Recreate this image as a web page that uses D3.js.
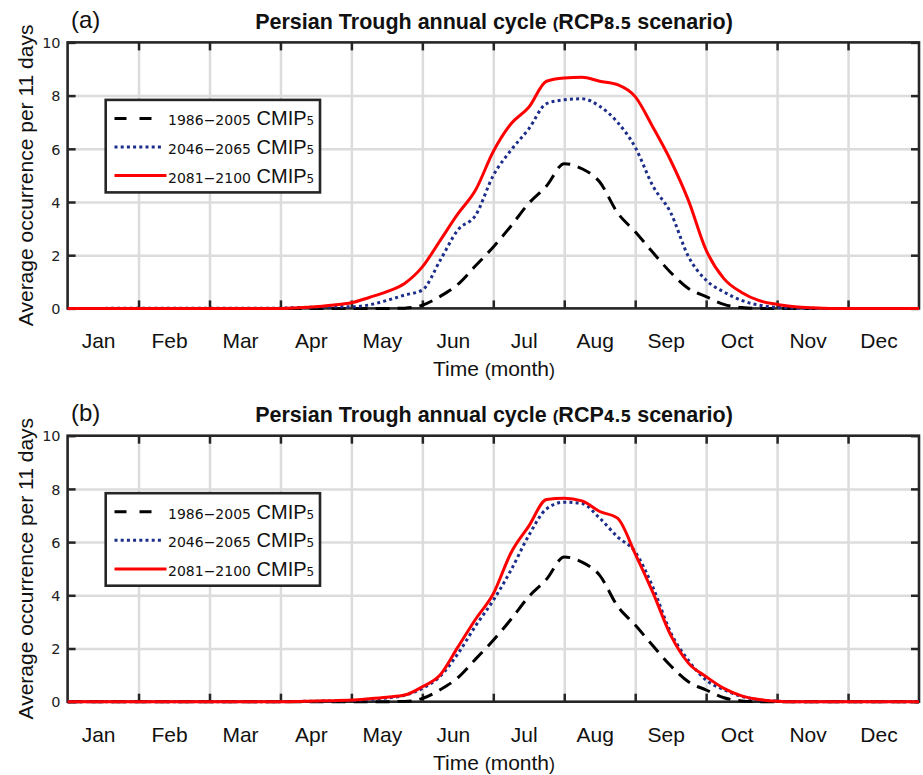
<!DOCTYPE html>
<html>
<head>
<meta charset="utf-8">
<title>Persian Trough annual cycle</title>
<script src="https://d3js.org/d3.v7.min.js"></script>
<style>
  body { margin: 0; background: #fff; }
  svg { display: block; }
</style>
</head>
<body>
<div id="container"></div>
<script>
//------------------------------ DATA ------------------------------//
const monthNames = ["Jan", "Feb", "Mar", "Apr", "May", "Jun", "Jul", "Aug", "Sep", "Oct", "Nov", "Dec"];
const yTicks = [0, 2, 4, 6, 8, 10];

// sample positions along the year, in months (0 = 1 Jan, 12 = 31 Dec)
const xMonth = [0, 3.0, 3.25, 3.5, 3.75, 4.0, 4.25, 4.5, 4.75, 5.0, 5.25, 5.5, 5.75, 6.0, 6.25, 6.5, 6.75,
                7.0, 7.25, 7.5, 7.75, 8.0, 8.25, 8.5, 8.75, 9.0, 9.25, 9.5, 9.75, 10.0, 10.25, 10.5, 10.75, 12];

// 1986-2005 (same historical run in both panels)
const hist = [0, 0, 0, 0, 0, 0, 0, 0, 0.01, 0.12, 0.45, 0.9, 1.6, 2.31, 3.1, 3.95, 4.6,
              5.44, 5.25, 4.75, 3.6, 2.88, 2.1, 1.35, 0.75, 0.44, 0.15, 0.03, 0, 0, 0, 0, 0, 0];
// RCP8.5
const rcp85Mid = [0, 0.01, 0.03, 0.05, 0.06, 0.06, 0.13, 0.3, 0.5, 0.69, 1.8, 2.95, 3.5, 5.0, 5.95, 6.75, 7.7,
                  7.84, 7.88, 7.6, 7.0, 6.06, 4.6, 3.6, 1.95, 1.06, 0.62, 0.3, 0.12, 0.04, 0.01, 0, 0, 0];
const rcp85End = [0, 0, 0.02, 0.06, 0.13, 0.21, 0.41, 0.63, 0.94, 1.56, 2.55, 3.55, 4.45, 5.9, 6.94, 7.56, 8.54,
                  8.66, 8.69, 8.54, 8.41, 7.96, 6.81, 5.56, 4.06, 2.19, 1.12, 0.6, 0.29, 0.15, 0.06, 0.02, 0, 0];
// RCP4.5
const rcp45Mid = [0, 0, 0.01, 0.02, 0.03, 0.04, 0.08, 0.14, 0.24, 0.5, 0.95, 1.8, 2.85, 3.81, 4.95, 6.25, 7.25,
                  7.5, 7.45, 6.9, 6.2, 5.63, 4.3, 2.6, 1.55, 0.81, 0.45, 0.2, 0.07, 0.02, 0, 0, 0, 0];
const rcp45End = [0, 0, 0.01, 0.03, 0.04, 0.06, 0.11, 0.17, 0.25, 0.56, 1.0, 2.05, 3.1, 4.06, 5.6, 6.6, 7.6,
                  7.65, 7.55, 7.15, 6.9, 5.56, 4.1, 2.5, 1.45, 0.94, 0.5, 0.22, 0.08, 0.02, 0, 0, 0, 0];

const periods = ["1986\u22122005", "2046\u22122065", "2081\u22122100"];

//------------------------------ SVG -------------------------------//
const width = 923;
const height = 775;
const left = 67.6, right = 919;
const plotH = 266;
const panelGap = 393.3;

const svg = d3.select("div#container").append("svg")
    .attr("width", width)
    .attr("height", height);

const xScale = d3.scaleLinear().domain([0, 12]).range([left, right]);

const styles = [
    { color: "#000000", dash: "14,8", width: 3 },
    { color: "#1c2d8a", dash: "3,3.2", width: 3 },
    { color: "#ff0000", dash: null, width: 3 }
];

const sans = "'Liberation Sans', Arial, sans-serif";
const deja = "'DejaVu Sans', sans-serif";
const frameColor = "#262626";

function drawPanel(top, letter, scenario, seriesList) {
    const bottom = top + plotH;
    const yScale = d3.scaleLinear().domain([0, 10]).range([bottom, top]);
    const g = svg.append("g");

    //--- gridlines
    g.append("g")
        .attr("transform", "translate(0," + bottom + ")")
        .call(d3.axisBottom(xScale).tickValues(d3.range(1, 12)).tickSize(-plotH).tickFormat(""))
        .call(s => s.select(".domain").remove())
        .call(s => s.selectAll("line").attr("stroke", "#dcdcdc").attr("stroke-width", 2.5));
    g.append("g")
        .attr("transform", "translate(" + left + ",0)")
        .call(d3.axisLeft(yScale).tickValues(yTicks.slice(1, -1)).tickSize(-(right - left)).tickFormat(""))
        .call(s => s.select(".domain").remove())
        .call(s => s.selectAll("line").attr("stroke", "#dcdcdc").attr("stroke-width", 2.5));

    //--- frame
    g.append("rect")
        .attr("x", left).attr("y", top)
        .attr("width", right - left).attr("height", plotH)
        .attr("fill", "none").attr("stroke", frameColor).attr("stroke-width", 2.6);

    //--- inner ticks
    const tickStyle = s => {
        s.select(".domain").remove();
        s.selectAll("line").attr("stroke", frameColor).attr("stroke-width", 2.5);
    };
    g.append("g").attr("transform", "translate(0," + bottom + ")")
        .call(d3.axisBottom(xScale).tickValues(d3.range(1, 12)).tickSize(-8).tickFormat(""))
        .call(tickStyle);
    g.append("g").attr("transform", "translate(0," + top + ")")
        .call(d3.axisTop(xScale).tickValues(d3.range(1, 12)).tickSize(-8).tickFormat(""))
        .call(tickStyle);
    g.append("g").attr("transform", "translate(" + right + ",0)")
        .call(d3.axisRight(yScale).tickValues(yTicks).tickSize(-8).tickFormat(""))
        .call(tickStyle);
    const yAxis = g.append("g").attr("transform", "translate(" + left + ",0)")
        .call(d3.axisLeft(yScale).tickValues(yTicks).tickSize(-8).tickPadding(8).tickFormat(d3.format("d")))
        .call(tickStyle);
    yAxis.selectAll("text")
        .attr("font-family", deja).attr("font-size", 14.5).attr("fill", "#222")
        .attr("x", -7).attr("dy", "0.36em");

    //--- month labels
    const monthAxis = g.append("g").attr("transform", "translate(-5," + bottom + ")")
        .call(d3.axisBottom(xScale).tickValues(d3.range(12).map(i => i + 0.5))
            .tickSize(0).tickFormat((d, i) => monthNames[i]));
    monthAxis.select(".domain").remove();
    monthAxis.selectAll("text")
        .attr("font-family", sans).attr("font-size", 21).attr("fill", "#111")
        .attr("y", 40).attr("dy", 0);

    //--- axis titles
    const xt = g.append("text")
        .attr("x", 494).attr("y", bottom + 68)
        .attr("text-anchor", "middle")
        .attr("font-family", sans).attr("font-size", 21).attr("fill", "#111");
    xt.append("tspan").text("Time ");
    xt.append("tspan").attr("font-size", 18).text("(");
    xt.append("tspan").text("month");
    xt.append("tspan").attr("font-size", 18).text(")");

    g.append("text")
        .attr("transform", "translate(33," + (top + plotH / 2) + ") rotate(-90)")
        .attr("text-anchor", "middle")
        .attr("font-family", sans).attr("font-size", 21).attr("fill", "#111")
        .text("Average occurrence per 11 days");

    //--- panel letter and title
    g.append("text")
        .attr("x", 71).attr("y", top - 14.5)
        .attr("font-family", sans).attr("font-size", 24).attr("fill", "#111")
        .text("(" + letter + ")");

    const title = g.append("text")
        .attr("x", 494).attr("y", top - 13.5)
        .attr("text-anchor", "middle")
        .attr("font-family", sans).attr("font-size", 21.5).attr("font-weight", "bold").attr("fill", "#111");
    title.append("tspan").text("Persian Trough annual cycle ");
    title.append("tspan").attr("font-size", 17).text("(");
    title.append("tspan").text("RCP");
    title.append("tspan").attr("font-family", deja).attr("font-size", 15.5).text(scenario);
    title.append("tspan").text(" scenario)");

    //--- curves
    const line = d3.line()
        .x((d, i) => xScale(xMonth[i]))
        .y(d => yScale(d))
        .curve(d3.curveMonotoneX);

    g.selectAll("path.series")
        .data(seriesList)
        .enter()
        .append("path")
        .attr("class", "series")
        .attr("d", d => line(d))
        .attr("fill", "none")
        .attr("stroke", (d, i) => styles[i].color)
        .attr("stroke-width", (d, i) => styles[i].width)
        .attr("stroke-dasharray", (d, i) => styles[i].dash)
        .attr("stroke-linejoin", "round");

    //--- legend
    const lx = 105.7, ly = top + 57.5;
    const legend = g.append("g");
    legend.append("rect")
        .attr("x", lx).attr("y", ly)
        .attr("width", 214.3).attr("height", 92.5)
        .attr("fill", "#fff").attr("stroke", frameColor).attr("stroke-width", 2.6);

    const rows = legend.selectAll("g.row")
        .data(periods)
        .enter()
        .append("g")
        .attr("class", "row")
        .attr("transform", (d, i) => "translate(0," + (ly + 18.5 + i * 28.6) + ")");

    rows.append("line")
        .attr("x1", 114.5)
        .attr("x2", (d, i) => i === 0 ? 154 : (i === 1 ? 163 : 166.5))
        .attr("y1", 0).attr("y2", 0)
        .attr("stroke", (d, i) => styles[i].color)
        .attr("stroke-width", (d, i) => styles[i].width)
        .attr("stroke-dasharray", (d, i) => i === 0 ? "12,13" : styles[i].dash);

    const lt = rows.append("text")
        .attr("x", 168).attr("y", 7)
        .attr("fill", "#111");
    lt.append("tspan").attr("font-family", deja).attr("font-size", 14).text(d => d);
    lt.append("tspan").attr("font-family", sans).attr("font-size", 20).text(" CMIP");
    lt.append("tspan").attr("font-family", deja).attr("font-size", 12).text("5");
}

drawPanel(42.4, "a", "8.5", [hist, rcp85Mid, rcp85End]);
drawPanel(42.4 + panelGap, "b", "4.5", [hist, rcp45Mid, rcp45End]);
</script>
</body>
</html>
